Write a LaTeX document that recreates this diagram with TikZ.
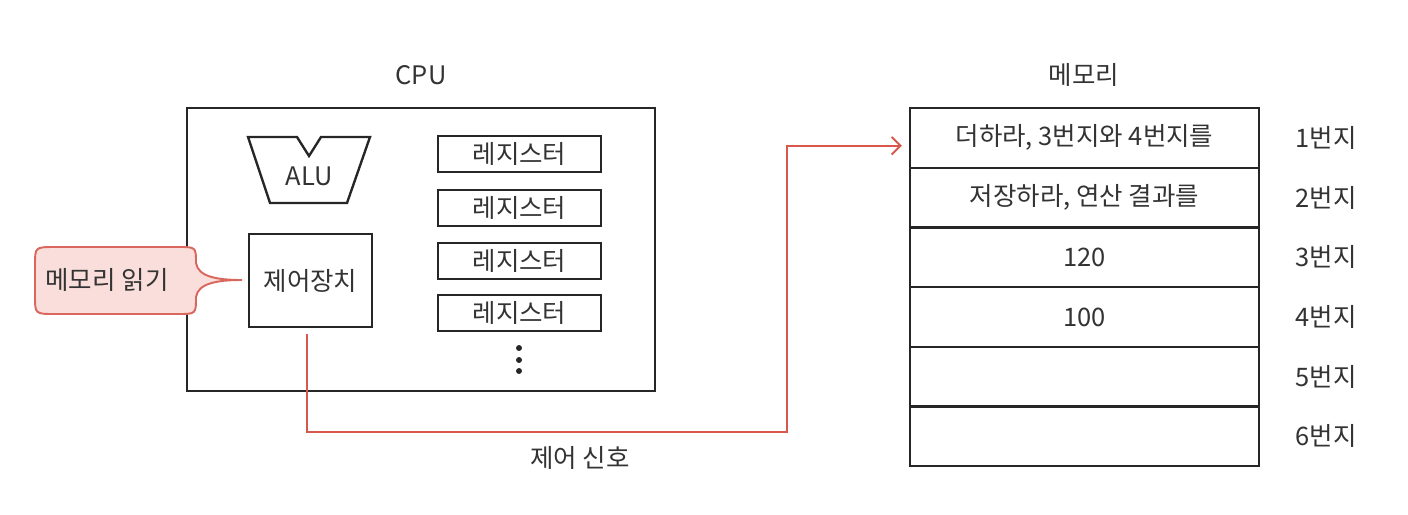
\documentclass[tikz,border=0pt]{standalone}
\usepackage{fontspec}
\setmainfont{Noto Sans CJK KR}
\usetikzlibrary{arrows.meta, positioning, calc}
\definecolor{sigred}{HTML}{D9574C}
\definecolor{bubfill}{HTML}{F9DEDB}
\definecolor{bubline}{HTML}{D9675D}
\definecolor{ink}{HTML}{333333}

\begin{document}
\begin{tikzpicture}[x=0.02cm, y=-0.02cm, font=\fontsize{14.5}{17}\selectfont, text=ink,
    box/.style={draw=black!85, line width=1.35pt, inner sep=0pt},
    reg/.style={box, minimum width=3.26cm, minimum height=0.72cm},
    memrow/.style={box, minimum width=6.98cm, minimum height=1.194cm},
    sig/.style={draw=sigred, line width=1.1pt, -{Straight Barb[length=5pt, width=10pt]}, shorten >=4pt}]
    \useasboundingbox (0,0) rectangle (1408,514);

    % CPU
    \node (cpulabel) at (421,75) {CPU};
    \node[box, minimum width=9.36cm, minimum height=5.66cm] (cpu) at (421,249.5) {};
    \draw[box] (248,137) -- (297,137) -- (309,156) -- (321,137) -- (370,137)
        -- (347,203) -- (270,203) -- cycle;
    \node (alu) at (309,176) {ALU};
    \node[box, minimum width=2.46cm, minimum height=1.86cm] (ctrl) at (310.5,280.5) {제어장치};
    \foreach \i/\y in {1/154, 2/208, 3/261, 4/313}
        \node[reg] (r\i) at (519.5,\y) {레지스터};
    \foreach \y in {348, 360, 371}
        \fill[black!85] (519,\y) circle (1.7pt);

    % 말풍선
    \draw[fill=bubfill, draw=bubline, line width=1.1pt]
        (55,247) -- (178,247) .. controls (196,247) .. (196,263)
        .. controls (198,277) and (218,280) .. (242,280)
        .. controls (218,280) and (198,283) .. (196,297)
        .. controls (196,314) .. (178,314) -- (55,314)
        .. controls (35,314) .. (35,296) -- (35,265)
        .. controls (35,247) .. (55,247) -- cycle;
    \node (readmsg) at (107,280) {메모리 읽기};

    % 메모리
    \node (memlabel) at (1084,75) {메모리};
    \foreach \i/\txt in {1/{더하라, 3번지와 4번지를}, 2/{저장하라, 연산 결과를}, 3/120, 4/100, 5/{}, 6/{}} {
        \node[memrow] (m\i) at (1084.5,{108+59.7*(\i-0.5)}) {\txt};
        \node (a\i) at (1326,{108+59.7*(\i-0.5)}) {{\i}번지};
    }

    % 제어 신호
    \coordinate (sigturn) at (787,432);
    \draw[sig] ([xshift=-2pt, yshift=-3.4pt]ctrl.south) |- (sigturn) |- ([yshift=-4.5pt]m1.west);
    \node (siglabel) at (580,458) {제어 신호};
\end{tikzpicture}
\end{document}
